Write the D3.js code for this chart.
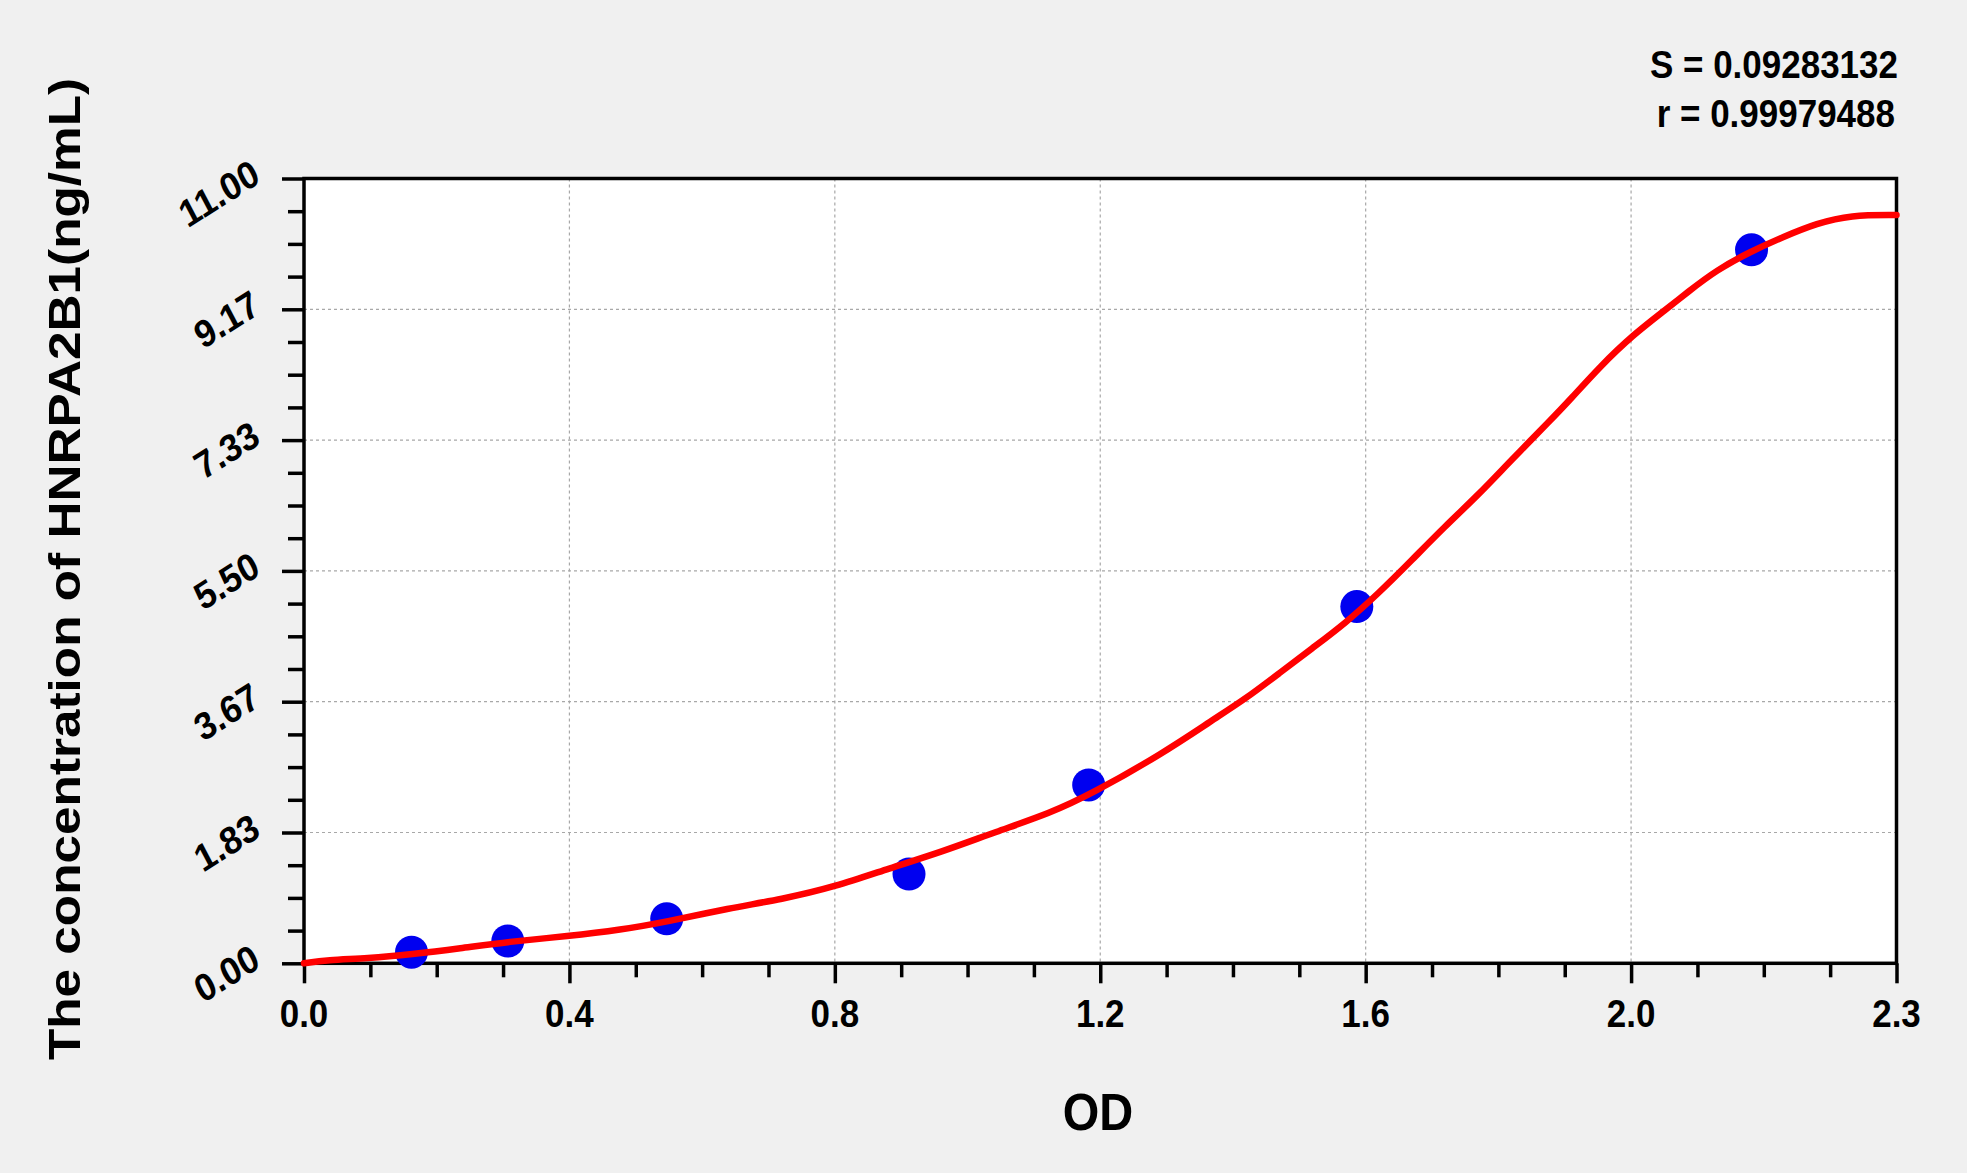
<!DOCTYPE html>
<html><head><meta charset="utf-8">
<script src="https://cdn.jsdelivr.net/npm/d3@7"></script>
<style>
html,body{margin:0;padding:0;background:#f0f0f0;}
svg{display:block;}
text{font-family:Arial,"Liberation Sans",sans-serif;font-weight:bold;fill:#000;}
</style></head><body>
<svg id="chart" width="1967" height="1173"></svg>
<script>
// ---- data ----
const stdOD   = [0.158, 0.2995, 0.533, 0.889, 1.153, 1.547, 2.127];
const stdConc = [0.156, 0.312, 0.625, 1.25, 2.5, 5, 10];
const curveOD   = [0, 0.034, 0.093, 0.158, 0.230, 0.300, 0.388, 0.466, 0.533, 0.624, 0.702, 0.781, 0.860, 0.938, 1.017, 1.096, 1.159, 1.262, 1.335, 1.384, 1.433, 1.482, 1.530, 1.579, 1.628, 1.676, 1.725, 1.774, 1.832, 1.860, 1.904, 1.953, 2.002, 2.032, 2.076, 2.125, 2.174, 2.223, 2.272, 2.34];
const curveConc = [0, 0.046, 0.070, 0.126, 0.210, 0.303, 0.380, 0.470, 0.583, 0.771, 0.897, 1.074, 1.332, 1.564, 1.845, 2.102, 2.383, 2.943, 3.410, 3.710, 4.065, 4.420, 4.766, 5.186, 5.653, 6.119, 6.560, 7.054, 7.615, 7.895, 8.362, 8.810, 9.170, 9.400, 9.720, 9.974, 10.184, 10.372, 10.488, 10.488];
const xTickValues = [0, 0.39, 0.78, 1.17, 1.56, 1.95, 2.34];
const xTickLabels = ["0.0", "0.4", "0.8", "1.2", "1.6", "2.0", "2.3"];
const yTickValues = [0, 1.8333, 3.6667, 5.5, 7.3333, 9.1667, 11];
const yTickLabels = ["0.00", "1.83", "3.67", "5.50", "7.33", "9.17", "11.00"];
const statLabels = ["S = 0.09283132", "r = 0.99979488"];
const xTitle = "OD";
const yTitle = "The concentration of HNRPA2B1(ng/mL)";

// ---- layout ----
const L = 304, R = 1896.5, T = 178.5, B = 963.3;
const svg = d3.select("#chart");
const x = d3.scaleLinear().domain([0, 2.34]).range([L, R]);
const y = d3.scaleLinear().domain([0, 11]).range([B, T]);

function minors(vals) {
  const out = [];
  for (let i = 0; i < vals.length - 1; i++)
    for (let k = 1; k < 4; k++) out.push(vals[i] + (vals[i + 1] - vals[i]) * k / 4);
  return out;
}

// plot area
svg.append("rect").attr("x", L).attr("y", T).attr("width", R - L).attr("height", B - T).attr("fill", "#fff");

// grid
svg.append("g").selectAll("line").data(xTickValues.slice(1, -1)).join("line")
  .attr("x1", d => x(d)).attr("x2", d => x(d)).attr("y1", T).attr("y2", B)
  .attr("stroke", "#a8a8a8").attr("stroke-width", 1.2).attr("stroke-dasharray", "3,3");
svg.append("g").selectAll("line").data(yTickValues.slice(1, -1)).join("line")
  .attr("y1", d => y(d)).attr("y2", d => y(d)).attr("x1", L).attr("x2", R)
  .attr("stroke", "#a8a8a8").attr("stroke-width", 1.2).attr("stroke-dasharray", "3,3");

// axes (ticks)
function styleAxis(g) {
  g.selectAll("path.domain").remove();
  g.selectAll("line").attr("stroke", "#000").attr("stroke-width", 3.5);
  g.selectAll("text").remove();
}
svg.append("g").attr("transform", `translate(0,${B})`)
  .call(d3.axisBottom(x).tickValues(xTickValues).tickSize(20).tickFormat("")).call(styleAxis);
svg.append("g").attr("transform", `translate(0,${B})`)
  .call(d3.axisBottom(x).tickValues(minors(xTickValues)).tickSize(14).tickFormat("")).call(styleAxis);
svg.append("g").attr("transform", `translate(${L},0)`)
  .call(d3.axisLeft(y).tickValues(yTickValues).tickSize(22).tickFormat("")).call(styleAxis);
svg.append("g").attr("transform", `translate(${L},0)`)
  .call(d3.axisLeft(y).tickValues(minors(yTickValues)).tickSize(16).tickFormat("")).call(styleAxis);

// frame
svg.append("rect").attr("x", L).attr("y", T).attr("width", R - L).attr("height", B - T)
  .attr("fill", "none").attr("stroke", "#000").attr("stroke-width", 3.5);

// points
svg.append("g").selectAll("circle").data(stdOD.map((d, i) => [d, stdConc[i]])).join("circle")
  .attr("cx", d => x(d[0])).attr("cy", d => y(d[1])).attr("r", 16.5).attr("fill", "#0000f0");

// curve
const line = d3.line().x(d => x(d[0])).y(d => y(d[1])).curve(d3.curveBasis);
svg.append("path").datum(curveOD.map((d, i) => [d, curveConc[i]]))
  .attr("d", line).attr("fill", "none").attr("stroke", "#ff0000").attr("stroke-width", 6.5)
  .attr("stroke-linejoin", "round").attr("stroke-linecap", "round");

// x tick labels
svg.append("g").selectAll("text").data(xTickValues).join("text")
  .attr("transform", d => `translate(${x(d)},1027) scale(1,1.1)`)
  .attr("text-anchor", "middle").attr("font-size", 35).text((d, i) => xTickLabels[i]);

// y tick labels
svg.append("g").selectAll("text").data(yTickValues).join("text")
  .attr("transform", d => `translate(${L - 42},${y(d) + 3}) scale(1,1.1) rotate(-30)`)
  .attr("text-anchor", "end").attr("font-size", 35).text((d, i) => yTickLabels[i]);

// stats
svg.append("text").attr("transform", "translate(1898,78) scale(1,1.1)").attr("text-anchor", "end")
  .attr("font-size", 35).text(statLabels[0]);
svg.append("text").attr("transform", "translate(1895,127) scale(1,1.1)").attr("text-anchor", "end")
  .attr("font-size", 35).text(statLabels[1]);

// titles
svg.append("text").attr("transform", "translate(1098,1130) scale(1,1.1)").attr("text-anchor", "middle")
  .attr("font-size", 47).text(xTitle);
svg.append("text").attr("transform", "translate(80,569) rotate(-90) scale(1.14,1)").attr("text-anchor", "middle")
  .attr("font-size", 45).text(yTitle);
</script>
</body></html>
